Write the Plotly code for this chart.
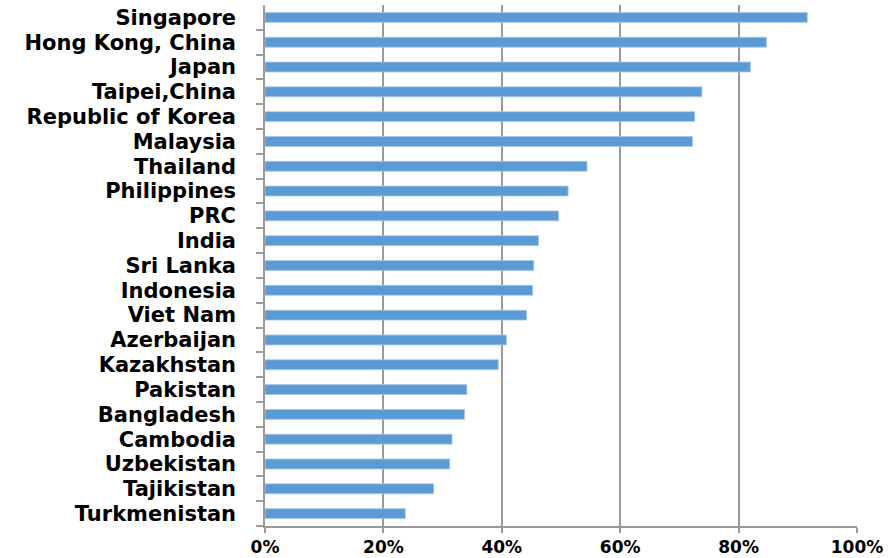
import plotly.graph_objects as go

# Economies, listed top to bottom as drawn
economies = [
    "Singapore", "Hong Kong, China", "Japan", "Taipei,China", "Republic of Korea",
    "Malaysia", "Thailand", "Philippines", "PRC", "India", "Sri Lanka",
    "Indonesia", "Viet Nam", "Azerbaijan", "Kazakhstan", "Pakistan",
    "Bangladesh", "Cambodia", "Uzbekistan", "Tajikistan", "Turkmenistan",
]

# Share values (fraction of 1)
shares = [
    0.916, 0.847, 0.820, 0.738, 0.726,
    0.722, 0.544, 0.512, 0.496, 0.462, 0.454,
    0.452, 0.442, 0.408, 0.394, 0.341,
    0.337, 0.316, 0.312, 0.285, 0.237,
]

x_ticks = [0, 0.2, 0.4, 0.6, 0.8, 1.0]

BAR_COLOR = "#5B9BD5"
GRID_COLOR = "#9a9a9a"
FONT = "DejaVu Sans"

fig = go.Figure(
    go.Bar(
        x=shares,
        y=economies,
        orientation="h",
        marker=dict(color=BAR_COLOR, line=dict(color="#a9c8ea", width=0.8)),
        width=0.4,
    )
)

fig.update_layout(
    width=892,
    height=558,
    margin=dict(l=265, r=35, t=5, b=32),
    paper_bgcolor="white",
    plot_bgcolor="white",
    showlegend=False,
    font=dict(family=FONT, color="black"),
)

fig.update_xaxes(
    range=[0, 1.0],
    tickmode="array",
    tickvals=x_ticks,
    tickformat=".0%",
    automargin=False,
    showgrid=True,
    gridcolor=GRID_COLOR,
    gridwidth=1.5,
    zeroline=False,
    showline=True,
    linecolor=GRID_COLOR,
    linewidth=1.5,
    ticks="outside",
    ticklen=5,
    tickcolor=GRID_COLOR,
    tickwidth=1.5,
    tickfont=dict(family=FONT, size=17, color="black", weight="bold"),
    ticklabelstandoff=0,
)

fig.update_yaxes(
    type="category",
    categoryorder="array",
    categoryarray=economies[::-1],
    tickmode="array",
    tickvals=economies,
    ticktext=economies,
    automargin=False,
    tickson="boundaries",
    showgrid=False,
    showline=True,
    linecolor=GRID_COLOR,
    linewidth=1.5,
    ticks="outside",
    ticklen=7,
    tickcolor=GRID_COLOR,
    tickwidth=1.5,
    tickfont=dict(family=FONT, size=21, color="black", weight="bold"),
    ticklabelstandoff=23,
)

fig.write_html("out.html")
